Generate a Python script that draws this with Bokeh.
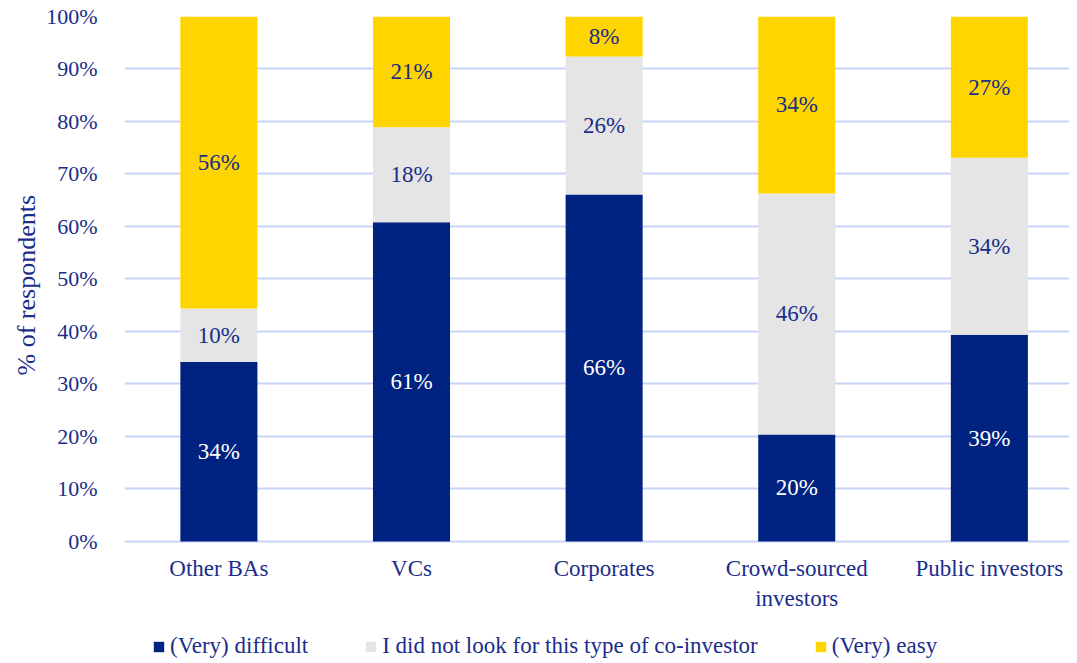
from bokeh.plotting import figure
from bokeh.models import (ColumnDataSource, Legend, LegendItem, FixedTicker,
                          PrintfTickFormatter, Range1d, Title)
from bokeh.core.properties import value
from bokeh.embed import file_html
from bokeh.resources import INLINE

categories = ["Other BAs", "VCs", "Corporates", "Crowd-sourced\ninvestors", "Public investors"]
series_names = ["(Very) difficult", "I did not look for this type of co-investor", "(Very) easy"]
difficult = [34.2, 60.8, 66.1, 20.4, 39.4]
not_looked = [10.2, 18.1, 26.3, 45.9, 33.7]
easy = [55.6, 21.1, 7.6, 33.7, 26.9]
y_ticks = [0, 10, 20, 30, 40, 50, 60, 70, 80, 90, 100]

colors = ["#002280", "#E5E5E5", "#FFD500"]
label_colors = ["#FFFFFF", "#1A2D8A", "#1A2D8A"]
TEXT = "#1A2D8A"
FONT = "Liberation Serif"

xs = list(range(len(categories)))
src = ColumnDataSource(dict(x=xs, d=difficult, n=not_looked, e=easy))

# frame: 0% at y=541, 100% at y=16, frame bottom at figure bottom (658)
p = figure(width=1069, height=658, output_backend="svg",
           toolbar_location=None, x_range=Range1d(-0.49, 4.416),
           y_range=Range1d(-22.286, 100), min_border_left=124, min_border_top=16,
           min_border_right=0, min_border_bottom=0)
p.outline_line_color = None
p.background_fill_color = "white"
p.border_fill_color = "white"

rs = p.vbar_stack(["d", "n", "e"], x="x", width=0.4, source=src,
                  color=colors, line_color=None)

# data labels
stack = [difficult, not_looked, easy]
for i, (vals, col) in enumerate(zip(stack, label_colors)):
    bottoms = [sum(v) for v in zip(*stack[:i])] if i > 0 else [0] * len(xs)
    ys = [b + v / 2 for b, v in zip(bottoms, vals)]
    labels = [f"{v:.0f}%" for v in vals]
    p.text(x=xs, y=ys, text=labels, text_align="center", text_baseline="middle",
           text_color=col, text_font=value(FONT), text_font_size="23px")

# y axis
p.yaxis.ticker = FixedTicker(ticks=y_ticks)
p.yaxis.formatter = PrintfTickFormatter(format="%d%%")
p.yaxis.axis_line_color = None
p.yaxis.major_tick_line_color = None
p.yaxis.minor_tick_line_color = None
p.yaxis.major_label_standoff = 21
p.yaxis.major_label_text_font = FONT
p.yaxis.major_label_text_font_size = "22px"
p.yaxis.major_label_text_color = TEXT

# y axis title, centred on the 0-100% span
ytitle = Title(text="% of respondents", align="left", offset=283,
               vertical_align="middle", text_font=FONT, text_font_size="26px",
               text_font_style="normal", text_color=TEXT, standoff=4)
p.add_layout(ytitle, "left")

# x axis drawn at the 0% line
p.xaxis.fixed_location = 0
p.xaxis.ticker = FixedTicker(ticks=xs)
p.xaxis.major_label_overrides = {i: c for i, c in enumerate(categories)}
p.xaxis.axis_line_color = None
p.xaxis.major_tick_line_color = None
p.xaxis.minor_tick_line_color = None
p.xaxis.major_label_standoff = 9
p.xaxis.major_label_text_font = FONT
p.xaxis.major_label_text_font_size = "23px"
p.xaxis.major_label_text_color = TEXT

p.xgrid.grid_line_color = None
p.ygrid.grid_line_color = "#C9D3F7"
p.ygrid.grid_line_width = 2

legend = Legend(items=[LegendItem(label=n, renderers=[r]) for n, r in zip(series_names, rs)],
                orientation="horizontal", location=(28, -1),
                glyph_width=13, glyph_height=13, label_standoff=5, spacing=56,
                label_text_font=FONT, label_text_font_size="23px",
                label_text_color=TEXT, border_line_color=None,
                background_fill_alpha=0, padding=0, margin=0)
p.add_layout(legend)

open("out.html", "w").write(file_html(p, INLINE))
